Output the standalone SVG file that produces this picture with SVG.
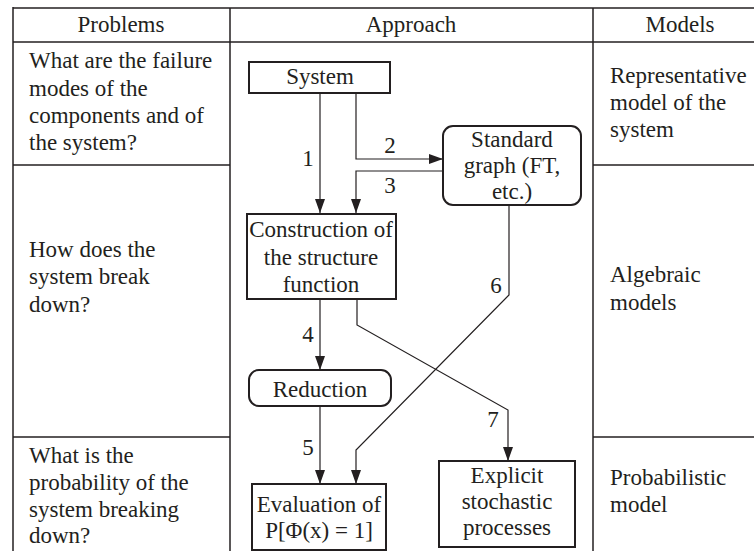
<svg xmlns="http://www.w3.org/2000/svg" width="754" height="551" viewBox="0 0 754 551">
<style>
text{font-family:'Liberation Serif','Times New Roman',serif;font-size:23px;fill:#231f20}
.c{text-anchor:middle}
.tbl{stroke:#231f20;stroke-width:1.5;fill:none}
.box{stroke:#231f20;stroke-width:2;fill:#fff}
.con{stroke:#231f20;stroke-width:1.2;fill:none}
</style>
<defs>
<marker id="ah" viewBox="0 0 14 10" refX="14" refY="5" markerWidth="14" markerHeight="10" markerUnits="userSpaceOnUse" orient="auto">
<path d="M0,0 L14,5 L0,10 Z" fill="#231f20"/>
</marker>
</defs>
<rect width="754" height="551" fill="#fff"/>
<g id="table">
<line class="tbl" x1="13" y1="8" x2="754" y2="8" stroke-width="2.2"/>
<line class="tbl" x1="13" y1="7" x2="13" y2="551" stroke-width="2"/>
<line class="tbl" x1="230" y1="8" x2="230" y2="551"/>
<line class="tbl" x1="593" y1="8" x2="593" y2="551"/>
<line class="tbl" x1="13" y1="42" x2="754" y2="42"/>
<line class="tbl" x1="13" y1="165" x2="230" y2="165"/>
<line class="tbl" x1="593" y1="165" x2="754" y2="165"/>
<line class="tbl" x1="13" y1="437" x2="230" y2="437"/>
<line class="tbl" x1="593" y1="437" x2="754" y2="437"/>
<text class="c" x="121" y="32">Problems</text>
<text class="c" x="411" y="32">Approach</text>
<text class="c" x="680" y="32">Models</text>
<text x="29" y="68">What are the failure</text>
<text x="29" y="96">modes of the</text>
<text x="29" y="123">components and of</text>
<text x="29" y="150">the system?</text>
<text x="29" y="257">How does the</text>
<text x="29" y="284">system break</text>
<text x="29" y="312">down?</text>
<text x="29" y="463">What is the</text>
<text x="29" y="490">probability of the</text>
<text x="29" y="517">system breaking</text>
<text x="29" y="543">down?</text>
<text x="610" y="83">Representative</text>
<text x="610" y="110">model of the</text>
<text x="610" y="137">system</text>
<text x="610" y="282">Algebraic</text>
<text x="610" y="310">models</text>
<text x="610" y="485">Probabilistic</text>
<text x="610" y="512">model</text>
</g>
<g id="connectors">
<path class="con" d="M320,93 V213" marker-end="url(#ah)"/>
<path class="con" d="M356,93 V159 H443" marker-end="url(#ah)"/>
<path class="con" d="M443,171 H356 V213" marker-end="url(#ah)"/>
<path class="con" d="M320,299 V370" marker-end="url(#ah)"/>
<path class="con" d="M320,406 V484" marker-end="url(#ah)"/>
<path class="con" d="M509,205 V295 L356,450 V484" marker-end="url(#ah)"/>
<path class="con" d="M357,299 V325 L508,410 V461" marker-end="url(#ah)"/>
<text class="c" x="308" y="166">1</text>
<text class="c" x="390" y="153">2</text>
<text class="c" x="390" y="193">3</text>
<text class="c" x="308" y="342">4</text>
<text class="c" x="308" y="455">5</text>
<text class="c" x="496" y="293">6</text>
<text class="c" x="493" y="427">7</text>
</g>
<g id="system">
<rect class="box" x="249" y="62" width="141" height="31"/>
<text class="c" x="320" y="84">System</text>
</g>
<g id="standard-graph">
<rect class="box" x="443" y="126" width="138" height="79" rx="10"/>
<text class="c" x="512" y="147">Standard</text>
<text class="c" x="512" y="173">graph (FT,</text>
<text class="c" x="512" y="199">etc.)</text>
</g>
<g id="construction">
<rect class="box" x="247" y="214" width="149" height="85"/>
<text class="c" x="321" y="237">Construction of</text>
<text class="c" x="321" y="265">the structure</text>
<text class="c" x="321" y="292">function</text>
</g>
<g id="reduction">
<rect class="box" x="249" y="370" width="142" height="36" rx="10"/>
<text class="c" x="320" y="397">Reduction</text>
</g>
<g id="evaluation">
<rect class="box" x="252" y="484" width="134" height="66"/>
<text class="c" x="319" y="512">Evaluation of</text>
<text class="c" x="319" y="538">P[Φ(x) = 1]</text>
</g>
<g id="explicit">
<rect class="box" x="439" y="461" width="136" height="86"/>
<text class="c" x="507" y="483">Explicit</text>
<text class="c" x="507" y="509">stochastic</text>
<text class="c" x="507" y="535">processes</text>
</g>
</svg>
